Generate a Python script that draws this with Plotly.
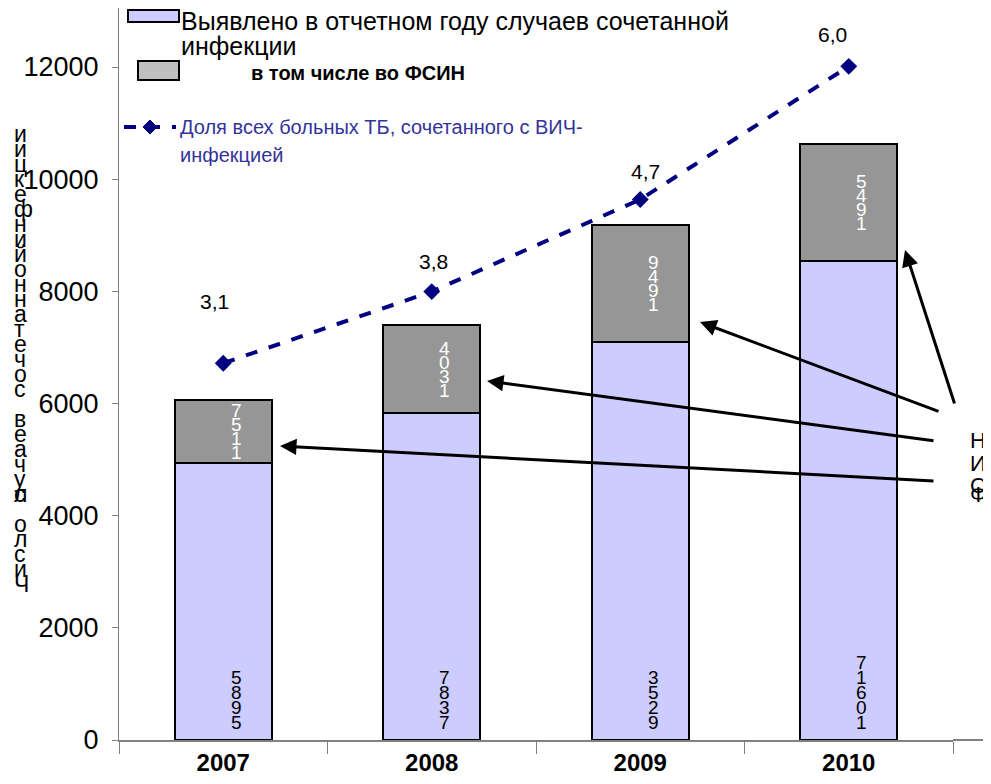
import plotly.graph_objects as go

# data
years = ["2007", "2008", "2009", "2010"]
cases_other = [4940, 5830, 7100, 8540]      # lower (lavender) part
cases_fsin = [1120, 1570, 2085, 2090]       # upper (gray) part, "во ФСИН"
share_tb_hiv = [3.1, 3.8, 4.7, 6.0]         # % on hidden secondary axis
share_text = ["3,1", "3,8", "4,7", "6,0"]
lbl_other = ["5895", "7837", "3529", "71601"]
lbl_fsin = ["7511", "4031", "9491", "5491"]
y_ticks = [0, 2000, 4000, 6000, 8000, 10000, 12000]
y_title = "Число случаев сочетанной инфекции"
right_note = "ФСИН"

LAV = "#CCCCFF"
GRAY = "#969696"
NAVY = "#000080"
LEG_BLUE = "#333399"
FONT = "Liberation Sans, Arial, sans-serif"

# page has an 8px body margin; work in page pixels, figure is shifted by OFF
OFF = 8
W, H = 991 - OFF, 784 - OFF
L, R, T, B = 119, 953, 8, 740   # plot area in page pixels


def px(x):
    return (x - L) / (R - L)


def py(y):
    return (B - y) / (B - T)


x = list(range(len(years)))
fig = go.Figure()
fig.add_trace(go.Bar(
    x=x, y=cases_other, marker=dict(color=LAV, line=dict(color="black", width=2)),
    width=0.465, showlegend=False, hoverinfo="skip",
))
fig.add_trace(go.Bar(
    x=x, y=cases_fsin, marker=dict(color=GRAY, line=dict(color="black", width=2)),
    width=0.465, showlegend=False, hoverinfo="skip",
))
fig.add_trace(go.Scatter(
    x=x, y=share_tb_hiv, yaxis="y2", mode="lines+markers",
    line=dict(color=NAVY, width=4, dash="dash"),
    marker=dict(symbol="diamond", size=13, color=NAVY),
    cliponaxis=False, showlegend=False, hoverinfo="skip",
))

# vertical stacked digit labels in bars
for i in x:
    s = lbl_fsin[i]
    n = len(s)
    mid = cases_other[i] + cases_fsin[i] / 2
    for k, ch in enumerate(s):
        fig.add_annotation(x=i, y=mid, text=ch, showarrow=False, xshift=13,
                           yshift=(n - 1) / 2 * 14 - k * 14,
                           font=dict(family=FONT, size=19, color="white"))
    s = lbl_other[i]
    n = len(s)
    for k, ch in enumerate(s):
        fig.add_annotation(x=i, y=0, text=ch, showarrow=False, xshift=13,
                           yshift=18 + (n - 1 - k) * 15,
                           font=dict(family=FONT, size=19, color="black"))

# line value labels
lab_shift = [(-9, 62), (2, 30), (5, 28), (-16, 32)]
for i in x:
    fig.add_annotation(x=i, y=share_tb_hiv[i], yref="y2", text=share_text[i],
                       showarrow=False, xshift=lab_shift[i][0], yshift=lab_shift[i][1],
                       font=dict(family=FONT, size=21, color="black"))

# arrows to the FSIN segments (head px, tail px)
arrows = [((280, 446), (935, 481)), ((487, 381), (935, 441)),
          ((700, 322), (940, 412)), ((905, 250), (955, 405))]
for (hx, hy), (tx, ty) in arrows:
    fig.add_annotation(x=px(hx), y=py(hy), xref="paper", yref="paper", text="",
                       showarrow=True, ax=tx - hx, ay=ty - hy, axref="pixel", ayref="pixel",
                       arrowhead=2, arrowsize=1.1, arrowwidth=3, arrowcolor="black")

# vertical y title (letters stacked, read bottom-up)
chars = list(y_title[::-1])
for k, ch in enumerate(chars):
    fig.add_annotation(x=px(12), y=py(119 + k * 15), xref="paper", yref="paper",
                       text=ch, showarrow=False,
                       font=dict(family=FONT, size=23, color="black"))

for k, ch in enumerate(right_note[::-1]):
    fig.add_annotation(x=px(978), y=py(440 + k * 23), xref="paper", yref="paper",
                       text=ch, showarrow=False, xanchor="center",
                       font=dict(family=FONT, size=22, color="black"))

# legend drawn by hand
fig.add_shape(type="rect", xref="paper", yref="paper", x0=px(128), x1=px(179),
              y0=py(22), y1=py(10), fillcolor=LAV, line=dict(color="black", width=2))
fig.add_shape(type="rect", xref="paper", yref="paper", x0=px(138), x1=px(179),
              y0=py(80), y1=py(61), fillcolor="#C0C0C0", line=dict(color="black", width=2))
fig.add_shape(type="line", xref="paper", yref="paper", x0=px(124), x1=px(176),
              y0=py(127), y1=py(127), line=dict(color=NAVY, width=4, dash="dash"))
fig.add_shape(type="path", xref="paper", yref="paper",
              path=f"M {px(150)},{py(120)} L {px(157)},{py(127)} L {px(150)},{py(134)} "
                   f"L {px(143)},{py(127)} Z",
              fillcolor=NAVY, line=dict(color=NAVY, width=1))
leg_lines = [
    ("Выявлено в отчетном году случаев сочетанной", 179, 21, 25, "black", False),
    ("инфекции", 179, 46, 25, "black", False),
    ("в том числе во ФСИН", 249, 73, 20, "black", True),
    ("Доля всех больных ТБ, сочетанного с ВИЧ-", 178, 127, 20, LEG_BLUE, False),
    ("инфекцией", 178, 155, 20, LEG_BLUE, False),
]
for txt, lx, ly, fs, col, bold in leg_lines:
    fig.add_annotation(x=px(lx), y=py(ly), xref="paper", yref="paper",
                       text=f"<b>{txt}</b>" if bold else txt, showarrow=False,
                       xanchor="left", yanchor="middle",
                       font=dict(family=FONT, size=fs, color=col))

# x axis line extension to the right edge
fig.add_shape(type="line", xref="paper", yref="paper", x0=1, x1=px(991), y0=0, y1=0,
              line=dict(color="#808080", width=2))

fig.update_layout(
    width=W, height=H,
    margin=dict(l=L - OFF, r=W - (R - OFF), t=T - OFF, b=H - (B - OFF)),
    paper_bgcolor="white", plot_bgcolor="white",
    barmode="stack",
    font=dict(family=FONT, color="black"),
    xaxis=dict(range=[-0.5, 3.5], tickvals=x, ticktext=[f"<b>{y}</b>" for y in years],
               tickfont=dict(size=24), ticks="", showgrid=False, zeroline=False,
               showline=True, linecolor="#808080", linewidth=2,
               minor=dict(tickvals=[-0.5, 0.5, 1.5, 2.5, 3.5], ticks="outside",
                          ticklen=12, tickcolor="#808080", tickwidth=1)),
    yaxis=dict(range=[0, 12000 * (B - T) / (B - 67)], tickvals=y_ticks,
               ticktext=[str(v) for v in y_ticks], tickfont=dict(size=27),
               ticklabelstandoff=8,
               showgrid=False, zeroline=False, showline=True, linecolor="#808080",
               linewidth=1, ticks="outside", ticklen=6, tickcolor="#808080"),
    yaxis2=dict(range=[-0.58, 6.57], overlaying="y", side="right", visible=False),
)

fig.write_html("out.html")
